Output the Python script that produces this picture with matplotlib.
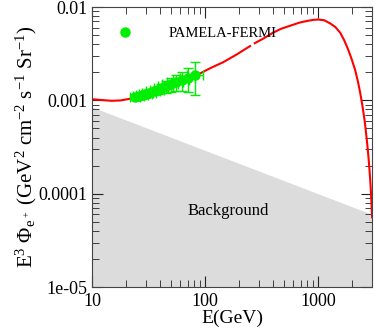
import numpy as np
import matplotlib
matplotlib.use('Agg')
import matplotlib.pyplot as plt
from matplotlib.lines import Line2D

plt.rcParams['font.family'] = ['Liberation Serif', 'DejaVu Serif']
plt.rcParams['mathtext.fontset'] = 'custom'
plt.rcParams['mathtext.rm'] = 'Liberation Serif'
plt.rcParams['mathtext.it'] = 'Liberation Serif'

# model curve (two pieces, small break in the line)
curve1_e = [10, 12, 15, 18, 22.6, 30, 40, 55, 70, 85, 110, 145, 190, 250]
curve1_f = [0.00103, 0.00101, 0.00099, 0.00100, 0.00105, 0.00114, 0.00128, 0.00148, 0.00168, 0.00187,
            0.00220, 0.00257, 0.00310, 0.00382]
curve2_e = [275, 330, 398, 470, 564, 680, 800, 900, 1000, 1130, 1276, 1420, 1567, 1700, 1842,
            1980, 2124, 2250, 2354, 2460, 2570, 2650, 2730, 2790, 2845, 2900, 2945, 3000]
curve2_f = [0.00410, 0.00462, 0.00530, 0.00585, 0.00630, 0.00680, 0.00710, 0.00728, 0.00735, 0.00722,
            0.00668, 0.00610, 0.00530, 0.00440, 0.00350, 0.00275, 0.00211, 0.00158, 0.00120,
            0.00088, 0.00062, 0.00045, 0.00032, 0.00024, 0.000178, 0.000128, 0.000091, 0.000056]

# PAMELA-FERMI points
pf_e = [24, 26, 28, 30, 32, 35, 38, 41, 45, 50, 55, 62, 71, 82]
pf_f = [0.00109, 0.00112, 0.00115, 0.00118, 0.00121, 0.00125, 0.00130, 0.00135, 0.00141, 0.00148, 0.00156, 0.00164, 0.00173, 0.00185]
pf_xerr = [2.5, 3, 3.5, 4, 4.5, 5, 5.5, 6, 7, 8, 9, 10, 11, 13]
pf_yerr = [0.00007, 0.00008, 0.00009, 0.0001, 0.00011, 0.00012, 0.00014, 0.00016, 0.0002, 0.00025, 0.0003, 0.00038, 0.0005, 0.0007]

# background band (upper edge)
bg_e = [10, 3000]
bg_f = [0.00085, 0.00006]

fig = plt.figure(figsize=(3.74, 3.35), dpi=100)
ax = fig.add_axes([0.246, 0.143, 0.749, 0.836])

ax.fill_between(bg_e, 1e-6, bg_f, color='#dcdcdc', lw=0)
ax.plot(curve1_e, curve1_f, color='red', lw=1.5)
ax.plot(curve2_e, curve2_f, color='red', lw=1.5)
ax.errorbar(pf_e, pf_f, xerr=pf_xerr, yerr=pf_yerr, fmt='o', color='#00ee00',
            ms=6.5, elinewidth=1, capsize=3.5, label='PAMELA-FERMI')

ax.set_xscale('log')
ax.set_yscale('log')
ax.set_xlim(10, 3000)
ax.set_ylim(1e-5, 0.01)
ax.set_xticks([10, 100, 1000])
ax.set_xticklabels(['10', '100', '1000'])
ax.set_yticks([1e-5, 1e-4, 1e-3, 1e-2])
ax.set_yticklabels(['1e-05', '0.0001', '0.001', '0.01'])
ax.tick_params(which='both', direction='in', top=True, right=True, labelsize=13, color='#222222')
ax.tick_params(which='major', length=8)
ax.tick_params(which='minor', length=5)
ax.tick_params(axis='x', which='major', pad=4)
ax.tick_params(axis='y', which='major', pad=3)
for s in ax.spines.values():
    s.set_color('#444444')

ax.text(160, 6.6e-5, 'Background', fontsize=12, ha='center', va='center')
ax.set_xlabel('E(GeV)', fontsize=14, labelpad=0)
ax.set_ylabel(r'E$^3$ $\Phi_{e^+}$ (GeV$^2$ cm$^{-2}$ s$^{-1}$ Sr$^{-1}$)', fontsize=15, labelpad=0)

h = Line2D([], [], marker='o', color='#00ee00', ls='none', ms=6.5)
ax.legend([h], ['PAMELA-FERMI'], loc='upper left', frameon=False, fontsize=10.5,
          bbox_to_anchor=(0.02, 0.975), handletextpad=2.0)

fig.savefig('out.png', dpi=100)
